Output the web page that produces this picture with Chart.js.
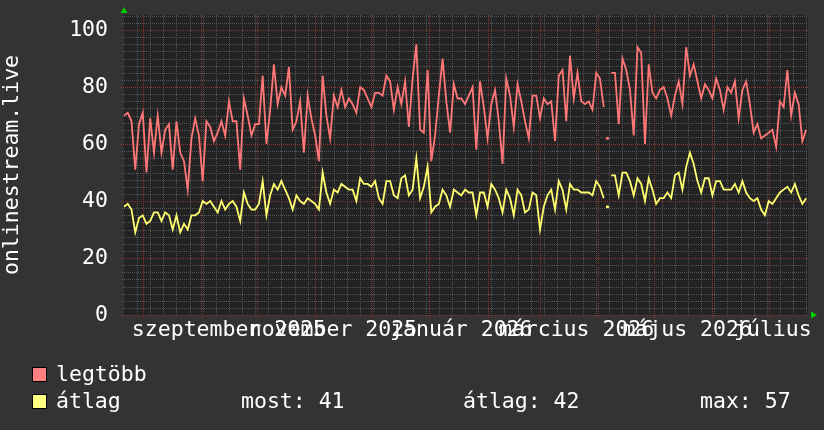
<!DOCTYPE html>
<html>
<head>
<meta charset="utf-8">
<title>onlinestream.live</title>
<script src="https://cdn.jsdelivr.net/npm/chart.js"></script>
<style>
  html, body { margin: 0; padding: 0; background: #333333; }
  canvas { display: block; }
</style>
</head>
<body>
<canvas id="chartCanvas" width="824" height="430"></canvas>
<script>
// one sample every 2 days, starting 2025-07-22
const peak = [
  70, 71, 68, 51, 67, 71, 50, 69, 57, 70, 57, 65, 67, 51, 68, 57, 54, 44, 62, 69, 63, 47, 68, 66, 61, 64, 68, 63, 75, 68,
  68, 51, 76, 70, 63, 67, 67, 84, 60, 72, 88, 74, 80, 77, 87, 65, 68, 75, 57, 77, 69, 63, 54, 84, 70, 62, 77, 73, 79, 73,
  76, 74, 71, 80, 79, 76, 73, 78, 78, 77, 84, 82, 72, 80, 74, 82, 66, 83, 95, 65, 64, 86, 54, 63, 77, 90, 75, 64, 81, 76, 76,
  74, 77, 80, 58, 82, 73, 62, 74, 79, 68, 53, 83, 77, 66, 81, 75, 68, 62, 77, 77, 69, 76, 74, 75, 61, 84, 86, 68, 91, 76,
  85, 75, 74, 75, 72, 85, 83, 73, 62, 85, 85, 67, 90, 86, 79, 63, 94, 92, 60, 88, 78, 76, 79, 80, 76, 70, 77, 82, 74, 94, 84,
  88, 82, 76, 81, 79, 76, 83, 79, 72, 80, 78, 82, 69, 79, 82, 74, 64, 67, 62, 63, 64, 65, 59, 75, 73, 86, 70, 78, 74, 61, 65
];
const avg = [
  38, 39, 37, 29, 34, 35, 32, 33, 36, 36, 33, 36, 35, 30, 35, 29, 32, 30, 35, 35, 36, 40, 39, 40, 38, 36, 40, 37, 39, 40,
  38, 33, 43, 39, 37, 37, 39, 47, 35, 42, 46, 44, 47, 44, 41, 37, 42, 40, 39, 41, 40, 39, 37, 50, 43, 39, 44, 43, 46, 45,
  44, 44, 40, 48, 46, 46, 45, 47, 41, 39, 47, 47, 42, 41, 48, 49, 42, 44, 55, 41, 45, 52, 36, 38, 39, 44, 42, 38, 44, 43, 42,
  44, 43, 43, 35, 43, 43, 38, 46, 44, 41, 36, 44, 41, 35, 44, 42, 36, 37, 43, 42, 30, 38, 42, 44, 37, 47, 44, 37, 46, 44,
  44, 43, 43, 43, 42, 47, 45, 41, 38, 49, 49, 42, 50, 50, 47, 42, 48, 46, 40, 48, 44, 39, 41, 41, 43, 41, 49, 50, 44, 52, 57,
  53, 47, 43, 48, 48, 42, 47, 47, 44, 44, 44, 46, 43, 47, 43, 41, 40, 41, 37, 35, 40, 39, 41, 43, 44, 45, 43, 46, 42, 39, 41
];
const dayStep = 2;
// sample that sits alone between two holes in the data
const loneSample = 129;

const monthLabels = ['szeptember 2025', 'november 2025', 'január 2026', 'március 2026', 'május 2026', 'július 2026'];
const monthLabelDays = [56, 111.5, 180, 241.5, 300.5, 363.5];
const monthStartDays = [10, 41, 71, 102, 132, 163, 194, 222, 253, 283, 314, 344];
const yTicks = [0, 20, 40, 60, 80, 100];
const legendNames = ['legtöbb', 'átlag'];
const legendStats = ['most: 41', 'átlag: 42', 'max: 57'];

const FONT = '"DejaVu Sans Mono", monospace';
const FONT_SIZE = 21.5;
const RED = '#ff7777';
const YELLOW = '#ffff70';

const rrdLook = {
  id: 'rrdLook',
  beforeDraw(chart) {
    const { ctx, chartArea: a, scales: { x, y } } = chart;
    ctx.save();
    ctx.fillStyle = '#333333';
    ctx.fillRect(0, 0, chart.width, chart.height);
    ctx.fillStyle = '#232323';
    ctx.fillRect(a.left, a.top, a.right - a.left, a.bottom - a.top);

    ctx.lineWidth = 1;
    ctx.setLineDash([1, 1]);
    // minor grid: weeks and 2.5 steps
    ctx.strokeStyle = '#565656';
    ctx.beginPath();
    for (let d = 7; d < x.max; d += 7) {
      const px = Math.round(x.getPixelForValue(d)) + 0.5;
      ctx.moveTo(px, a.top);
      ctx.lineTo(px, a.bottom + 2);
    }
    for (let v = 2.5; v < y.max; v += 2.5) {
      if (v % 20 === 0) continue;
      const py = Math.round(y.getPixelForValue(v)) + 0.5;
      ctx.moveTo(a.left - 2, py);
      ctx.lineTo(a.right, py);
    }
    ctx.stroke();

    // major grid: month starts and every 20
    ctx.strokeStyle = '#8c3030';
    ctx.beginPath();
    monthStartDays.forEach(d => {
      const px = Math.round(x.getPixelForValue(d)) + 0.5;
      ctx.moveTo(px, a.top);
      ctx.lineTo(px, a.bottom + 3);
    });
    yTicks.forEach(v => {
      const py = Math.round(y.getPixelForValue(v)) + 0.5;
      ctx.moveTo(a.left - 3, py);
      ctx.lineTo(a.right, py);
    });
    ctx.stroke();
    ctx.restore();
  },
  afterDraw(chart) {
    const { ctx, chartArea: a } = chart;
    ctx.save();
    // green axis arrows
    ctx.fillStyle = '#00cc00';
    ctx.beginPath();
    ctx.moveTo(a.left - 3.5, a.top - 2);
    ctx.lineTo(a.left + 3.5, a.top - 2);
    ctx.lineTo(a.left, a.top - 8);
    ctx.closePath();
    ctx.fill();
    ctx.beginPath();
    ctx.moveTo(a.right + 3, a.bottom - 3.5);
    ctx.lineTo(a.right + 3, a.bottom + 3.5);
    ctx.lineTo(a.right + 9, a.bottom);
    ctx.closePath();
    ctx.fill();

    // legend
    const rows = [375, 402];
    const swatch = ['#ff8080', '#ffff80'];
    ctx.font = FONT_SIZE + 'px ' + FONT;
    ctx.textBaseline = 'middle';
    ctx.textAlign = 'left';
    rows.forEach((ry, i) => {
      ctx.fillStyle = swatch[i];
      ctx.fillRect(32, ry - 8, 15, 15);
      ctx.strokeStyle = '#000000';
      ctx.lineWidth = 1;
      ctx.strokeRect(32.5, ry - 7.5, 14, 14);
      ctx.fillStyle = '#ffffff';
      ctx.fillText(legendNames[i], 56, ry);
    });
    const statX = [241, 463, 700];
    legendStats.forEach((t, i) => ctx.fillText(t, statX[i], rows[1]));
    ctx.restore();
  }
};

const hideAroundLone = c => (c.p0DataIndex === loneSample || c.p1DataIndex === loneSample) ? 'rgba(0,0,0,0)' : undefined;

const ctx = document.getElementById('chartCanvas').getContext('2d');
new Chart(ctx, {
  type: 'line',
  data: {
    labels: peak.map((_, i) => i * dayStep),
    datasets: [{
      label: legendNames[0],
      data: peak,
      borderColor: RED,
      backgroundColor: RED,
      borderWidth: 1.8,
      pointRadius: c => c.dataIndex === loneSample ? 1.6 : 0,
      pointBorderWidth: 0,
      segment: { borderColor: hideAroundLone }
    }, {
      label: legendNames[1],
      data: avg,
      borderColor: YELLOW,
      backgroundColor: YELLOW,
      borderWidth: 1.8,
      pointRadius: c => c.dataIndex === loneSample ? 1.6 : 0,
      pointBorderWidth: 0,
      segment: { borderColor: hideAroundLone }
    }]
  },
  options: {
    responsive: false,
    animation: false,
    devicePixelRatio: 1,
    layout: { padding: { left: 0, top: 15, right: 16, bottom: 75 } },
    plugins: { legend: { display: false }, tooltip: { enabled: false } },
    elements: { line: { tension: 0 } },
    scales: {
      x: {
        type: 'linear',
        min: 0,
        max: 365,
        grid: { display: false, drawTicks: false },
        border: { display: false },
        afterBuildTicks: s => { s.ticks = monthLabelDays.map(v => ({ value: v })); },
        afterFit: s => { s.height = 40; s.paddingLeft = 0; s.paddingRight = 0; },
        ticks: {
          autoSkip: false,
          maxRotation: 0,
          minRotation: 0,
          padding: 3,
          color: '#ffffff',
          font: { family: FONT, size: FONT_SIZE },
          callback: (v, i) => monthLabels[i]
        }
      },
      y: {
        min: 0,
        max: 105.3,
        grid: { display: false, drawTicks: false },
        border: { display: false },
        afterBuildTicks: s => { s.ticks = yTicks.map(v => ({ value: v })); },
        afterFit: s => { s.width = 124; s.paddingTop = 0; s.paddingBottom = 0; },
        ticks: {
          padding: 16,
          color: '#ffffff',
          font: { family: FONT, size: FONT_SIZE }
        },
        title: {
          display: true,
          text: 'onlinestream.live',
          color: '#ffffff',
          font: { family: FONT, size: FONT_SIZE },
          padding: 0
        }
      }
    }
  },
  plugins: [rrdLook]
});
</script>
</body>
</html>
